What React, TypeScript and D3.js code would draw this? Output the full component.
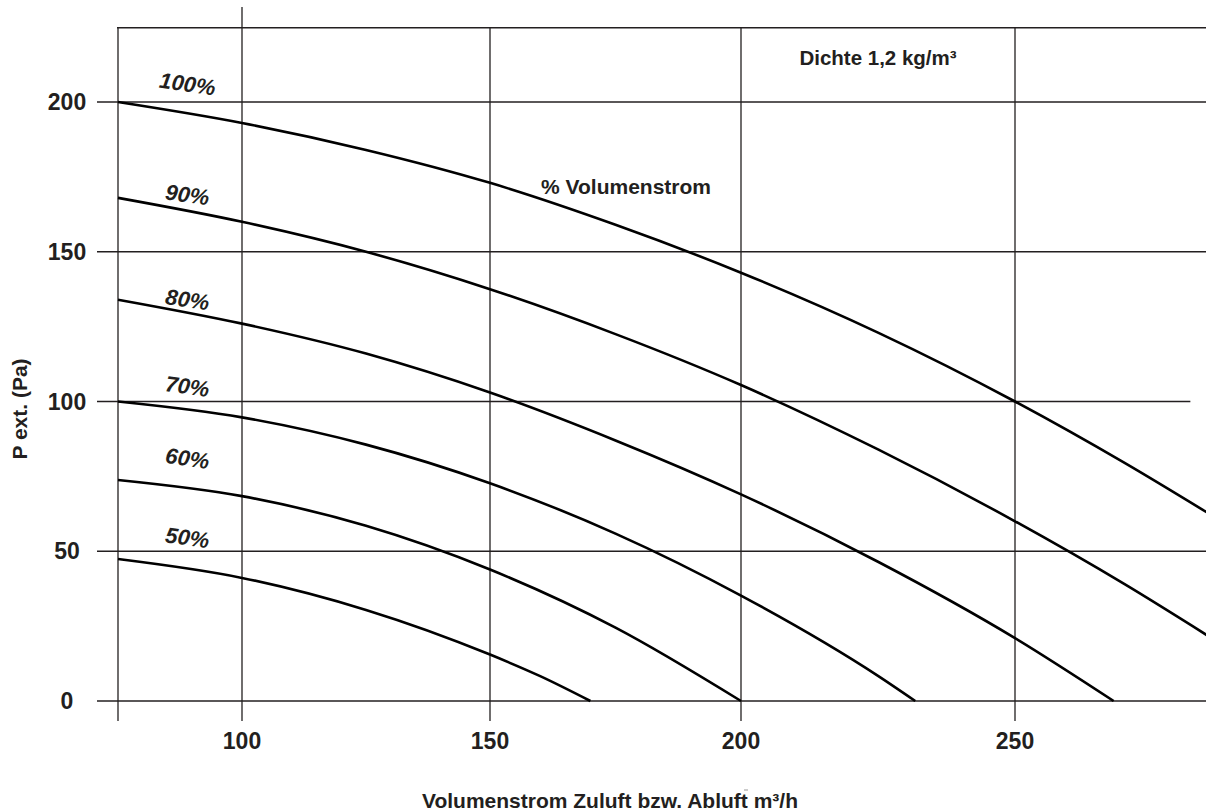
import React from 'react';
import * as d3 from 'd3';

const W = 1206;
const H = 812;

// ---- data ----
const xTicks = [100, 150, 200, 250];
const yTicks = [0, 50, 100, 150, 200];
// the original drawing's x intervals are not uniform -> piecewise linear scale
const xBreaks = [75, 100, 150, 200, 250, 300];

const q100 = [75, 100, 125, 150, 175, 200, 225, 250, 270, 285];
const p100 = [200, 193, 184, 173, 159, 143, 123, 100, 79.5, 63];
const q90 = [75, 100, 125, 150, 175, 200, 225, 250, 270, 285];
const p90 = [168, 160, 150, 137.5, 122.5, 105.5, 84, 60, 39, 22];
const q80 = [75, 100, 125, 150, 175, 200, 225, 250, 268];
const p80 = [134, 126, 116, 103, 87, 69, 46.5, 21, 0];
const q70 = [75, 100, 125, 150, 175, 200, 225, 231.8];
const p70 = [100, 94.7, 85.6, 72.7, 55.9, 35.2, 8.4, 0];
const q60 = [75, 100, 125, 150, 175, 200];
const p60 = [73.8, 68.4, 58.5, 43.9, 24.5, 0];
const q50 = [75, 100, 125, 150, 160, 170];
const p50 = [47.4, 41.1, 30.4, 15.5, 8.3, 0];

const seriesLabels = ['100%', '90%', '80%', '70%', '60%', '50%'];
const seriesQ = [q100, q90, q80, q70, q60, q50];
const seriesP = [p100, p90, p80, p70, p60, p50];
// label anchor in data units
const labelQ = [89, 89, 89, 89, 89, 89];
const labelP = [206, 169, 134, 105, 81, 54.5];

const yTitle = 'P ext. (Pa)';
const xTitle = 'Volumenstrom Zuluft bzw. Abluft m³/h';
const densityNote = 'Dichte 1,2 kg/m³';
const flowNote = '% Volumenstrom';

const FONT = '"Liberation Sans", Arial, Helvetica, sans-serif';
const INK = '#231f20';

export default function App() {
  const x = d3.scaleLinear().domain(xBreaks).range([118, 242, 490, 741, 1015, 1289]);
  const y = d3.scaleLinear().domain([0, 200]).range([701, 102]);
  const yTop = y(224.8);
  const yBottomTick = 721;

  const line = d3
    .line<[number, number]>()
    .x((d) => x(d[0]))
    .y((d) => y(d[1]))
    .curve(d3.curveMonotoneX);

  return (
    <svg
      width={W}
      height={H}
      viewBox={`0 0 ${W} ${H}`}
      style={{ position: 'absolute', left: 0, top: 0, background: '#fff' }}
      fontFamily={FONT}
    >
      <rect x={0} y={0} width={W} height={H} fill="#fff" />
      {/* top border */}
      <line x1={x(75) - 1} x2={W} y1={yTop} y2={yTop} stroke={INK} strokeWidth={1.6} />
      {/* horizontal grid */}
      {yTicks.map((t) => (
        <line
          key={'h' + t}
          x1={97}
          x2={t === 100 ? x(282) : W}
          y1={y(t)}
          y2={y(t)}
          stroke={INK}
          strokeWidth={1.3}
        />
      ))}
      {/* vertical grid */}
      {[75, ...xTicks].map((t) => (
        <line
          key={'v' + t}
          x1={x(t)}
          x2={x(t)}
          y1={t === 100 ? 7 : yTop}
          y2={yBottomTick}
          stroke={INK}
          strokeWidth={1.3}
        />
      ))}
      {/* curves */}
      {seriesQ.map((qs, i) => (
        <path
          key={'c' + i}
          d={line(qs.map((q, j) => [q, seriesP[i][j]] as [number, number])) || ''}
          fill="none"
          stroke="#000"
          strokeWidth={2.6}
        />
      ))}
      {/* curve labels */}
      {seriesLabels.map((s, i) => (
        <text
          key={'l' + i}
          transform={`translate(${x(labelQ[i])},${y(labelP[i])}) rotate(8)`}
          textAnchor="middle"
          dominantBaseline="central"
          fontSize={22}
          fontWeight="bold"
          fontStyle="italic"
          fill={INK}
        >
          {s}
        </text>
      ))}
      {/* y tick labels */}
      {yTicks.map((t) => (
        <text
          key={'yt' + t}
          x={67}
          y={y(t)}
          textAnchor="middle"
          dominantBaseline="central"
          fontSize={23}
          fontWeight="bold"
          fill={INK}
        >
          {t}
        </text>
      ))}
      {/* x tick labels */}
      {xTicks.map((t) => (
        <text
          key={'xt' + t}
          x={x(t)}
          y={749}
          textAnchor="middle"
          fontSize={23}
          fontWeight="bold"
          fill={INK}
        >
          {t}
        </text>
      ))}
      {/* notes */}
      <text x={878} y={65} textAnchor="middle" fontSize={20.5} fontWeight="bold" fill={INK}>
        {densityNote}
      </text>
      <text x={626} y={194} textAnchor="middle" fontSize={21} fontWeight="bold" fill={INK}>
        {flowNote}
      </text>
      {/* axis titles */}
      <text
        transform={`translate(19,409) rotate(-90)`}
        textAnchor="middle"
        dominantBaseline="central"
        fontSize={21}
        fontWeight="bold"
        fill={INK}
      >
        {yTitle}
      </text>
      <text x={610} y={808} textAnchor="middle" fontSize={21} fontWeight="bold" fill={INK}>
        {xTitle}
      </text>
      {/* small stray mark present in the original */}
      <line x1={744} x2={748} y1={790} y2={790} stroke="#999" strokeWidth={1} />
    </svg>
  );
}
